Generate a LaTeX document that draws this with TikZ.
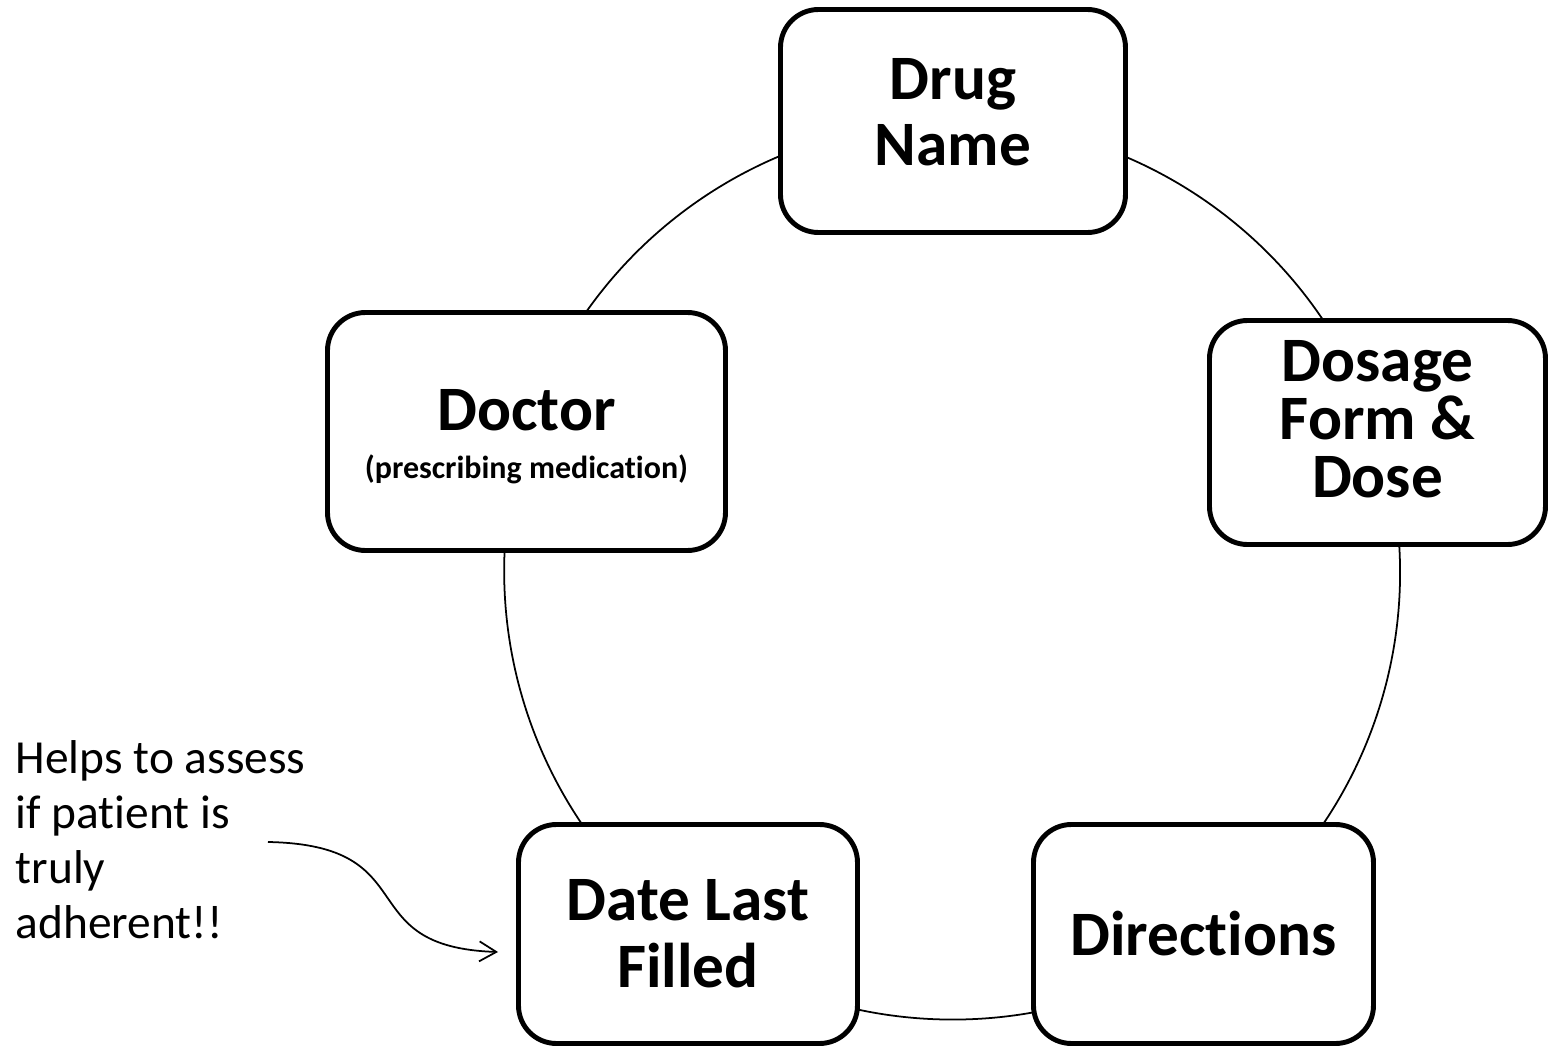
\documentclass[tikz,border=0pt]{standalone}
\usepackage{fontspec}
\setmainfont{Carlito}[Ligatures=NoCommon]
\usetikzlibrary{arrows.meta,backgrounds}

\begin{document}
\begin{tikzpicture}[
  item/.style={draw=black, line width=1.4pt, fill=white, rounded corners=0.38cm,
    align=center, inner sep=0pt, font=\bfseries\fontsize{18}{18.5}\selectfont},
  ring/.style={black, line width=0.5pt, bend left=36, looseness=0.94},
  note/.style={align=left, inner sep=0pt, font=\fontsize{13.5}{15.6}\selectfont},
  pointer/.style={black, line width=0.5pt, -{Straight Barb[length=0.17cm,width=0.2cm]}}
]
\useasboundingbox (-9.53,-4.79) rectangle (5.96,5.71);
\node[item, minimum width=3.45cm, minimum height=2.23cm] (drug) at (0,4.5) {Drug\\Name\\[-0.47cm]\mbox{}};
\node[item, minimum width=3.36cm, minimum height=2.24cm,
  font=\bfseries\fontsize{18}{16.5}\selectfont] (dose) at (4.245,1.385) {Dosage\\Form \&\\Dose\\[-0.3cm]\mbox{}};
\node[item, minimum width=3.40cm, minimum height=2.19cm] (dirs) at (2.505,-3.63) {Directions};
\node[item, minimum width=3.39cm, minimum height=2.19cm,
  font=\bfseries\fontsize{18}{19}\selectfont] (filled) at (-2.65,-3.63) {Date Last\\Filled};
\node[item, minimum width=3.98cm, minimum height=2.38cm] (doctor) at (-4.265,1.395)
  {\mbox{}\\[-0.13cm]Doctor\\[-0.17cm]{\fontsize{9.1}{10}\selectfont (prescribing medication)}};
% ring behind the boxes
\begin{scope}[on background layer]
\draw[ring] (drug.center) to (dose.center);
\draw[ring] (dose.center) to ([xshift=0.14cm]dirs.center);
\draw[ring] ([xshift=0.14cm]dirs.center) to (filled.center);
\draw[ring] (filled.center) to (doctor.center);
\draw[ring] (doctor.center) to (drug.center);
\end{scope}
\node[note, anchor=west] (hint) at (-9.38,-2.685) {Helps to assess\\if patient is\\truly\\adherent!!};
\coordinate (tail) at (-6.85,-2.71);
\draw[pointer] (tail) .. controls (-5.25,-2.74) and (-6.05,-3.76) .. ([shift={(-0.18,-0.18)}]filled.west);
\end{tikzpicture}
\end{document}
